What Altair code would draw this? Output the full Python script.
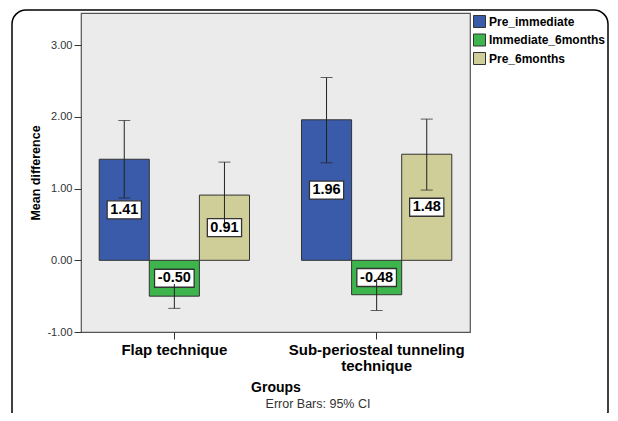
import altair as alt
import pandas as pd

groups = ["Flap technique", "Sub-periosteal tunneling technique"]
series = ["Pre_immediate", "Immediate_6months", "Pre_6months"]
colors = ["#3a5baa", "#3db54c", "#cfcd98"]

flap_mean = [1.41, -0.50, 0.91]
flap_low = [0.87, -0.67, 0.45]
flap_high = [1.95, -0.33, 1.37]
sub_mean = [1.96, -0.48, 1.48]
sub_low = [1.36, -0.70, 0.98]
sub_high = [2.55, -0.26, 1.97]
y_ticks = [-1, 0, 1, 2, 3]
footnote = "Error Bars: 95% CI"

rows = []
for g, m, lo, hi in [(groups[0], flap_mean, flap_low, flap_high),
                     (groups[1], sub_mean, sub_low, sub_high)]:
    for s, mv, l, h in zip(series, m, lo, hi):
        rows.append(dict(group=g, series=s, mean=mv, low=l, high=h, lbl=f"{mv:.2f}"))
df = pd.DataFrame(rows)

FONT = "Liberation Sans"
MINUS = "\u2212"

x_enc = alt.X(
    "group:N", sort=groups,
    scale=alt.Scale(paddingInner=0.257, paddingOuter=0.09),
    title="Groups",
    axis=alt.Axis(
        labelAngle=0, labelFont=FONT, labelFontSize=15, labelFontWeight="bold",
        labelColor="black", tickSize=7, tickColor="#333", domain=False,
        labelExpr="datum.value == 'Sub-periosteal tunneling technique' ? ['Sub-periosteal tunneling', 'technique'] : datum.value",
        labelLineHeight=16, labelPadding=3, labelLimit=400,
        titleFont=FONT, titleFontSize=14, titleFontWeight="bold", titleColor="black",
        titlePadding=7,
    ),
)
xoff_enc = alt.XOffset("series:N", sort=series, scale=alt.Scale(paddingInner=0, paddingOuter=0))
y_scale = alt.Scale(domain=[-1, 3.45], nice=False, zero=False)
y_axis = alt.Axis(
    values=y_ticks, format=".2f", labelExpr=f"replace(datum.label, '{MINUS}', '-')",
    labelFont=FONT, labelFontSize=11, labelColor="#333",
    tickSize=7, tickColor="#333", domain=False, grid=False, labelPadding=2,
    title="Mean difference", titleFont=FONT, titleFontSize=12.5, titleFontWeight="bold",
    titleColor="black", titlePadding=4,
)

base = alt.Chart(df).transform_calculate(
    mid="datum.mean / 2",
    box="length(datum.lbl) > 4 ? 'M-1.1,-0.5L1.1,-0.5L1.1,0.5L-1.1,0.5Z' : 'M-0.95,-0.5L0.95,-0.5L0.95,0.5L-0.95,0.5Z'",
)

bars = base.mark_bar(stroke="#333", strokeWidth=1).encode(
    x=x_enc, xOffset=xoff_enc,
    y=alt.Y("mean:Q", scale=y_scale, axis=y_axis),
    color=alt.Color(
        "series:N", sort=series,
        scale=alt.Scale(domain=series, range=colors),
        legend=alt.Legend(
            orient="none", legendX=392, legendY=2, title=None,
            symbolType="square", symbolSize=144, symbolStrokeColor="#333",
            symbolStrokeWidth=1, symbolOpacity=1,
            labelFont=FONT, labelFontSize=12, labelFontWeight="bold",
            labelColor="black", rowPadding=1.5, labelOffset=3, padding=0,
        ),
    ),
)

caps = base.transform_fold(["low", "high"], as_=["end", "val"]).mark_tick(
    size=12, thickness=1, color="#222"
).encode(x=x_enc, xOffset=xoff_enc, y=alt.Y("val:Q", scale=y_scale))

boxes = base.mark_point(
    size=1296, filled=True,
    fill="white", stroke="#333", strokeWidth=1.3, opacity=1,
).encode(
    x=x_enc, xOffset=xoff_enc, y=alt.Y("mid:Q", scale=y_scale),
    shape=alt.Shape("box:N", scale=None),
)

rules = base.mark_rule(color="#222", strokeWidth=1).encode(
    x=x_enc, xOffset=xoff_enc,
    y=alt.Y("low:Q", scale=y_scale), y2="high:Q",
)

texts = base.mark_text(
    font=FONT, fontSize=14.5, fontWeight="bold", color="black",
    align="center", baseline="middle",
).encode(
    x=x_enc, xOffset=xoff_enc, y=alt.Y("mid:Q", scale=y_scale),
    text=alt.Text("lbl:N"),
)

dummy = alt.Data(values=[{"k": 1}])
frame = alt.Chart(dummy).mark_rect(
    fill="transparent", stroke="black", strokeWidth=1.5, cornerRadius=14
).encode(
    x=alt.value(-69), x2=alt.value(527), y=alt.value(-3), y2=alt.value(412)
)
note = alt.Chart(dummy).mark_text(
    font=FONT, fontSize=12.5, color="#333", align="center", baseline="middle"
).encode(x=alt.value(237), y=alt.value(391), text=alt.value(footnote))

chart = alt.layer(frame, bars, caps, boxes, rules, texts, note).properties(
    width=389, height=319,
    autosize=alt.AutoSizeParams(type="none"),
    padding={"left": 73, "top": 5, "right": 140, "bottom": 81},
    background="white",
).configure_view(fill="#ebebeb", stroke="#555", strokeWidth=1.2)

chart.save("out.html", embed_options={"renderer": "svg", "actions": False})
